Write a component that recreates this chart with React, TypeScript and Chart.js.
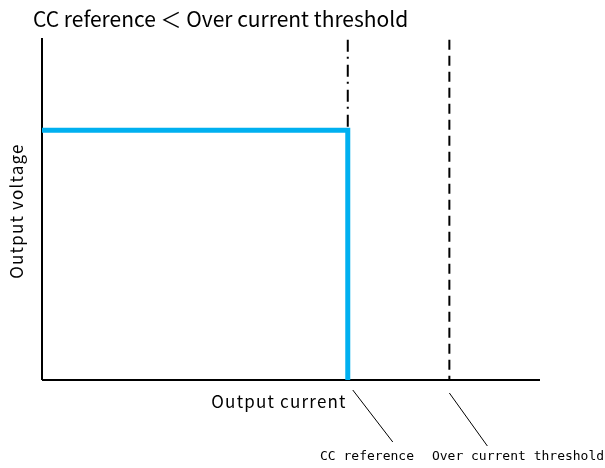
import React, { useEffect, useRef } from "react";
import { Chart, registerables } from "chart.js";

Chart.register(...registerables);

const titleText = "CC reference \uFF1C Over current threshold";
const xAxisLabel = "Output current";
const yAxisLabel = "Output voltage";
const markerLabels = ["CC reference", "Over current threshold"];

const xMax = 5;
const yMax = 1.37;
const ccReference = 3.07;
const overCurrentThreshold = 4.09;
const outputVoltage = 1.0;

const cvccX = [0, ccReference, ccReference];
const cvccY = [outputVoltage, outputVoltage, 0];

const FONT = '"Noto Sans CJK JP", "Noto Sans", sans-serif';
const MONO = '"DejaVu Sans Mono", "Liberation Mono", monospace';

const textPlugin = {
  id: "texts",
  afterDraw(chart: any) {
    const ctx = chart.ctx;
    const xs = chart.scales.x;
    const area = chart.chartArea;
    ctx.save();
    ctx.fillStyle = "#000";
    ctx.textBaseline = "middle";
    // title
    ctx.font = `21px ${FONT}`;
    ctx.textAlign = "left";
    ctx.fillText(titleText, 33, 19);
    // axis titles
    ctx.font = `17px ${FONT}`;
    (ctx as any).letterSpacing = "1.2px";
    ctx.textAlign = "center";
    ctx.fillText(xAxisLabel, 279, area.bottom + 22);
    ctx.save();
    ctx.translate(17, 211);
    ctx.rotate(-Math.PI / 2);
    ctx.fillText(yAxisLabel, 0, 0);
    ctx.restore();
    (ctx as any).letterSpacing = "0px";
    // leader lines and labels
    const cc = xs.getPixelForValue(ccReference);
    const oc = xs.getPixelForValue(overCurrentThreshold);
    ctx.strokeStyle = "#000";
    ctx.lineWidth = 1;
    ctx.beginPath();
    ctx.moveTo(cc + 5, area.bottom + 10);
    ctx.lineTo(cc + 45, area.bottom + 62);
    ctx.moveTo(oc, area.bottom + 13);
    ctx.lineTo(oc + 38, area.bottom + 66);
    ctx.stroke();
    ctx.font = `13px ${MONO}`;
    ctx.fillText(markerLabels[0], 367, area.bottom + 77);
    ctx.fillText(markerLabels[1], 518, area.bottom + 77);
    ctx.restore();
  },
};

export default function App() {
  const ref = useRef<HTMLCanvasElement>(null);
  useEffect(() => {
    const chart = new Chart(ref.current!, {
      type: "scatter",
      data: {
        datasets: [
          {
            label: "y axis",
            data: [
              { x: 0, y: 0 },
              { x: 0, y: yMax },
            ],
            showLine: true,
            borderColor: "#000",
            borderWidth: 2,
            pointRadius: 0,
            clip: false,
            order: 2,
          },
          {
            label: "x axis",
            data: [
              { x: 0, y: 0 },
              { x: xMax, y: 0 },
            ],
            showLine: true,
            borderColor: "#000",
            borderWidth: 2,
            pointRadius: 0,
            clip: false,
            order: 2,
          },
          {
            label: "CC reference",
            data: [
              { x: ccReference, y: yMax * 0.995 },
              { x: ccReference, y: outputVoltage },
            ],
            showLine: true,
            borderColor: "#000",
            borderWidth: 2,
            borderDash: [12, 5, 2, 6],
            pointRadius: 0,
            clip: false,
            order: 2,
          },
          {
            label: "Over current threshold",
            data: [
              { x: overCurrentThreshold, y: yMax * 0.995 },
              { x: overCurrentThreshold, y: 0 },
            ],
            showLine: true,
            borderColor: "#000",
            borderWidth: 2,
            borderDash: [10, 6],
            pointRadius: 0,
            clip: false,
            order: 2,
          },
          {
            label: "Output",
            data: cvccX.map((x, i) => ({ x, y: cvccY[i] })),
            showLine: true,
            borderColor: "#00B0F0",
            borderWidth: 5,
            pointRadius: 0,
            clip: false,
            borderJoinStyle: "miter",
            order: 0,
          },
        ],
      },
      options: {
        animation: false,
        responsive: false,
        layout: { padding: { left: 42, right: 65, top: 38, bottom: 88 } },
        plugins: {
          legend: { display: false },
          tooltip: { enabled: false },
          title: { display: false },
        },
        scales: {
          x: { type: "linear", min: 0, max: xMax, display: false },
          y: { type: "linear", min: 0, max: yMax, display: false },
        },
      },
      plugins: [textPlugin],
    } as any);
    return () => chart.destroy();
  }, []);
  return (
    <div style={{ position: "fixed", left: 0, top: 0, width: 605, height: 468, background: "#fff" }}>
      <canvas ref={ref} width={605} height={468} />
    </div>
  );
}
